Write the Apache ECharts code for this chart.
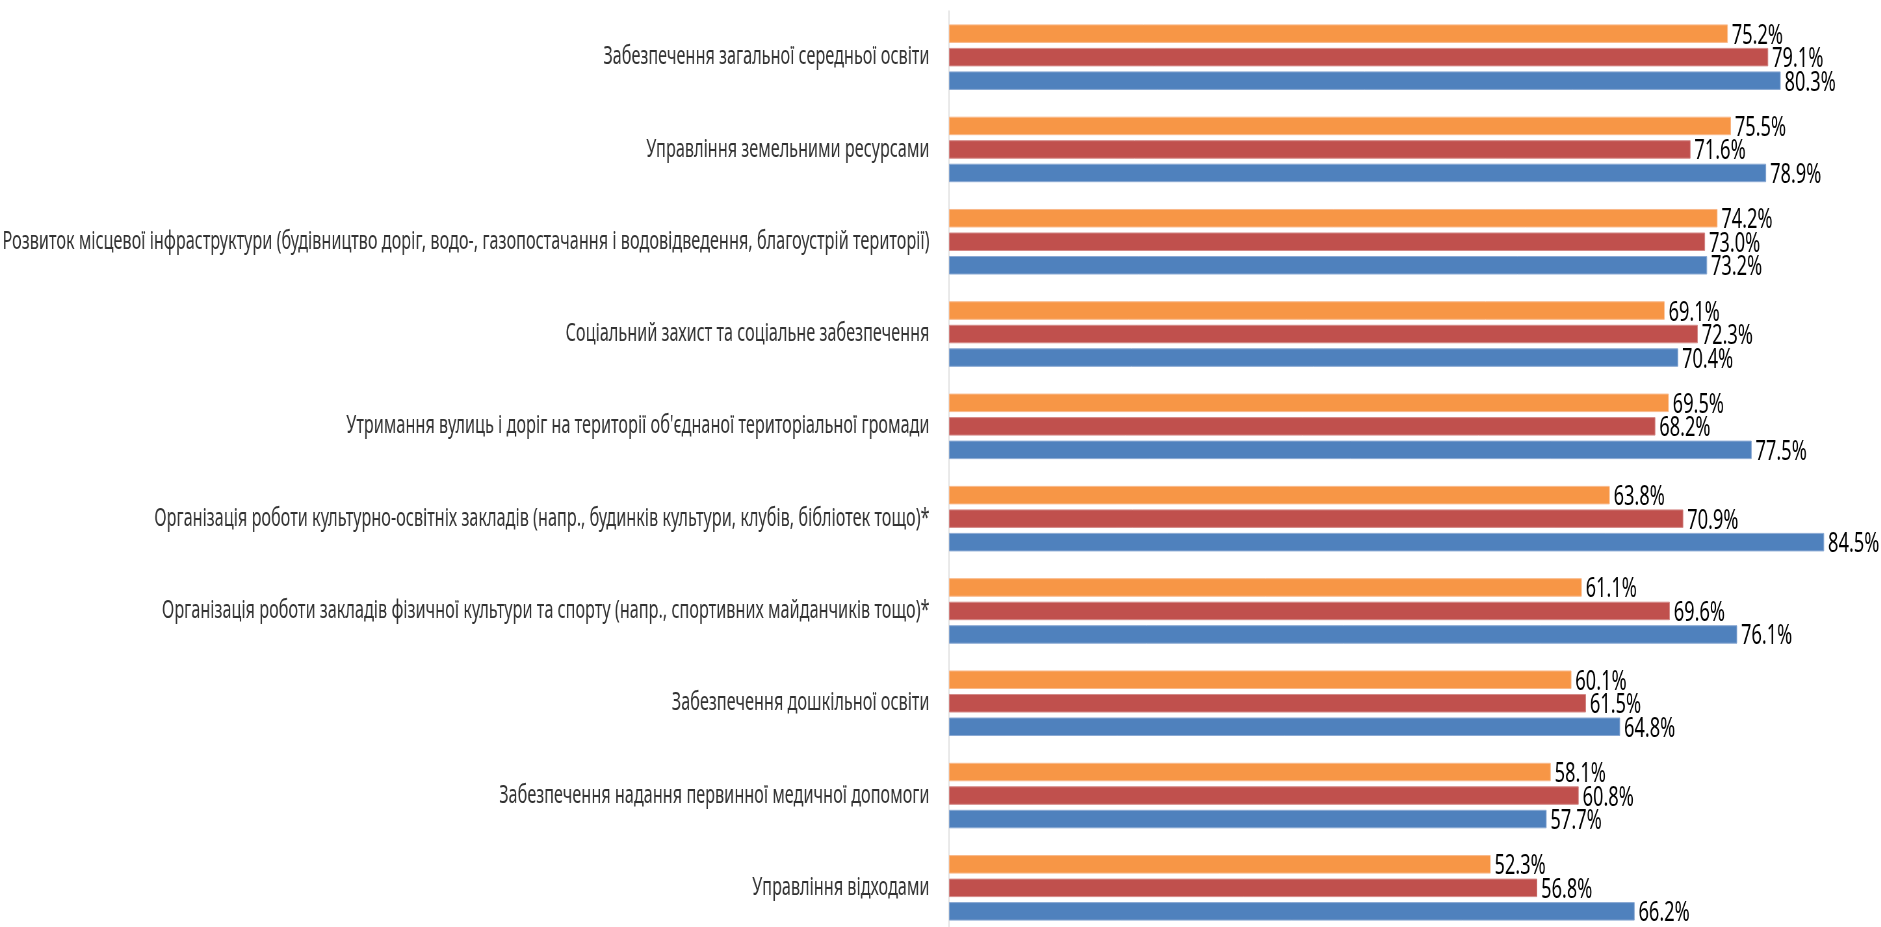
<!DOCTYPE html>
<html>
<head>
<meta charset="utf-8">
<script src="https://cdn.jsdelivr.net/npm/echarts@6/dist/echarts.min.js"></script>
<style>
html,body{margin:0;padding:0;background:#fff;overflow:hidden;width:1881px;height:927px;}
#wrap{width:1881px;height:927px;overflow:hidden;position:relative;}
#chart{width:2894px;height:927px;transform:scaleX(0.65);transform-origin:0 0;position:absolute;left:0;top:0;}
</style>
</head>
<body>
<div id="wrap"><div id="chart"></div></div>
<script>
const categories = [
  "Забезпечення загальної середньої освіти",
  "Управління земельними ресурсами",
  "Розвиток місцевої інфраструктури (будівництво доріг, водо-, газопостачання і водовідведення, благоустрій території)",
  "Соціальний захист та соціальне забезпечення",
  "Утримання вулиць і доріг на території об'єднаної територіальної громади",
  "Організація роботи культурно-освітніх закладів (напр., будинків культури, клубів, бібліотек тощо)*",
  "Організація роботи закладів фізичної культури та спорту (напр., спортивних майданчиків тощо)*",
  "Забезпечення дошкільної освіти",
  "Забезпечення надання первинної медичної допомоги",
  "Управління відходами"
];
const seriesOrange = [75.2, 75.5, 74.2, 69.1, 69.5, 63.8, 61.1, 60.1, 58.1, 52.3];
const seriesRed    = [79.1, 71.6, 73.0, 72.3, 68.2, 70.9, 69.6, 61.5, 60.8, 56.8];
const seriesBlue   = [80.3, 78.9, 73.2, 70.4, 77.5, 84.5, 76.1, 64.8, 57.7, 66.2];

const chart = echarts.init(document.getElementById('chart'));
const font = '"Noto Sans", "Open Sans", sans-serif';
function mk(name, data, color, edge) {
  return {
    name: name,
    type: 'bar',
    data: data,
    barGap: '27%',
    barCategoryGap: '29%',
    itemStyle: { color: color, borderColor: edge, borderWidth: 1 },
    label: {
      show: true,
      position: 'right',
      distance: 6,
      fontFamily: font,
      fontSize: 28,
      color: '#000',
      offset: [0, 2],
      formatter: p => p.value.toFixed(1) + '%'
    }
  };
}
chart.setOption({
  animation: false,
  grid: { left: 1460, right: 0, top: 11, height: 923, containLabel: false, outerBoundsMode: 'none' },
  xAxis: {
    type: 'value', min: 0, max: 90,
    axisLine: { show: false }, axisTick: { show: false },
    axisLabel: { show: false }, splitLine: { show: false }
  },
  yAxis: {
    type: 'category', data: categories, inverse: true,
    axisLine: { show: true, lineStyle: { color: '#d9d9d9', width: 1.5 } },
    axisTick: { show: false },
    axisLabel: { fontFamily: font, fontSize: 25, color: '#333', margin: 30 }
  },
  series: [
    mk('Серія 3', seriesOrange, '#F79646', '#f9b98a'),
    mk('Серія 2', seriesRed, '#C0504D', '#d48a88'),
    mk('Серія 1', seriesBlue, '#4F81BD', '#8aa9d3')
  ]
});
</script>
</body>
</html>
